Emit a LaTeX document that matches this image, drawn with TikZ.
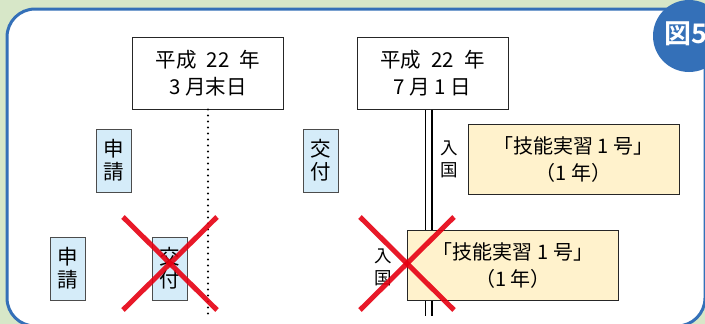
\documentclass[tikz,border=0pt]{standalone}
\usepackage{fontspec}
\newfontfamily\jp{Noto Sans CJK JP}
\newfontfamily\jpb{Noto Sans CJK JP Bold}
\definecolor{bggreen}{HTML}{D7E7C8}
\definecolor{frameblue}{HTML}{3470B8}
\definecolor{appblue}{HTML}{D5ECF9}
\definecolor{permyellow}{HTML}{FFF2CC}
\definecolor{ngred}{HTML}{E60012}
\begin{document}
\begin{tikzpicture}[x=1pt,y=-1pt,
		datebox/.style={draw=black!85,fill=white,line width=1,minimum width=151,minimum height=72,inner sep=0,align=center,font=\jp\fontsize{20.5}{27.5}\selectfont},
		appbox/.style={draw=black!70,fill=appblue,line width=1,minimum width=35,minimum height=63,inner sep=0,align=center,font=\jp\fontsize{20.5}{23}\selectfont},
		permbox/.style={draw=black!85,fill=permyellow,line width=1,minimum width=211,minimum height=70,inner sep=0,align=center,font=\jp\fontsize{20}{27}\selectfont},
		entry/.style={inner sep=0,align=center,font=\jp\fontsize{17.5}{22}\selectfont},
		ng/.style={draw=ngred,opacity=.9,line width=5}]
			\fill[bggreen] (0,0) rectangle (705,324);
			\useasboundingbox (0,0) rectangle (705,324);
			\clip (0,0) rectangle (705,324);
			\draw[frameblue,fill=white,line width=3,rounded corners=28] (7,9) rectangle (705,326);
			\fill[frameblue] (689,36) circle (36);
			\node[anchor=west,text=white,inner sep=0,font=\jpb\fontsize{27}{27}\selectfont] (fig) at (664,34) {図5};
			
			\node[datebox] (d1) at (208,73) {平成\hspace{.5em}22\hspace{.5em}年\\3 月末日};
			\node[datebox] (d2) at (432.5,73) {平成\hspace{.5em}22\hspace{.5em}年\\7 月 1 日};
			\coordinate (e1) at (208,316);
			\coordinate (e2) at (428.5,316);
			\draw[line width=2.2,line cap=round,dash pattern=on 0pt off 6pt] (d1.south) -- (e1);
			\draw[line width=1.2,double distance=5.6] (d1.south -| e2) -- (e2);
			
			\node[appbox] (app1) at (113.5,160.5) {申\\請};
			\node[appbox] (iss1) at (321,160.5) {交\\付};
			\node[entry] (in1) at (449,159) {入\\国};
			\node[permbox] (perm1) at (573.5,159) {「技能実習 1 号」\\（1 年）};
			
			\node[appbox] (app2) at (68,268.5) {申\\請};
			\node[appbox] (iss2) at (170,268.5) {交\\付};
			\node[permbox] (perm2) at (513,265.5) {「技能実習 1 号」\\（1 年）};
			\node[entry] (in2) at (383,267) {入\\国};
			
			\draw[ng] (123,217) -- (217,310);
			\draw[ng] (123,310) -- (217,217);
			\draw[ng] (360,217) -- (454,310);
			\draw[ng] (360,310) -- (454,217);
		\end{tikzpicture}
\end{document}
